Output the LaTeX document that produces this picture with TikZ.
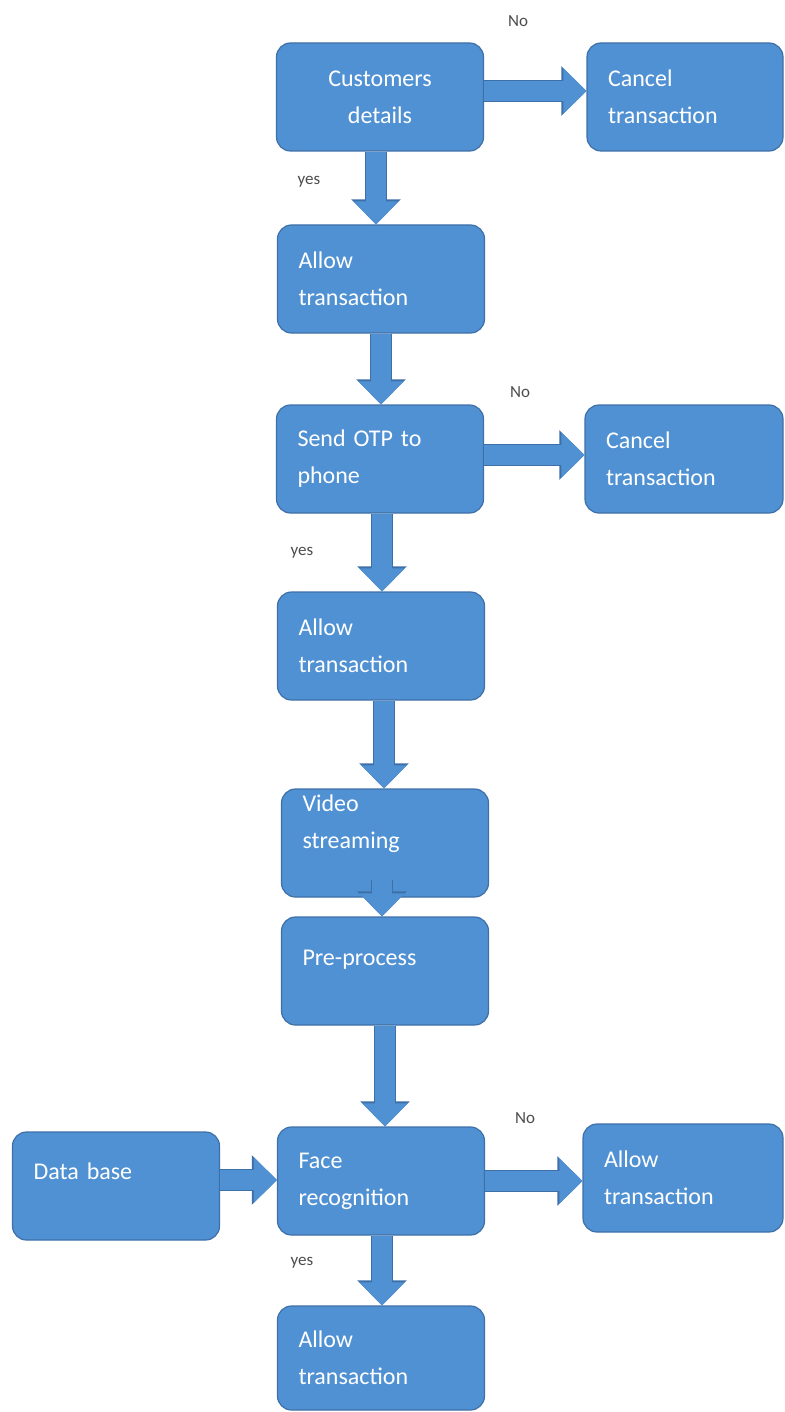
\documentclass[tikz,border=0pt]{standalone}
\usepackage{fontspec}
\setmainfont{Carlito}
\usetikzlibrary{arrows.meta}

\definecolor{boxblue}{RGB}{80,145,211}
\definecolor{boxedge}{RGB}{62,112,168}

\tikzset{
  stage/.style={draw=boxedge,fill=boxblue,line width=1.2pt,rounded corners=14pt,
    text=white,minimum width=207pt,minimum height=108pt,text width=165pt,
    align=left,font=\fontsize{24}{37}\selectfont},
  flow/.style={boxblue,line width=20pt,-{Triangle[width=44pt,length=23pt]},
    preaction={draw=boxedge,line width=22.4pt,-{Triangle[width=48pt,length=25pt]}}},
  answer/.style={font=\fontsize{17}{20}\selectfont,text=black!70}
}

\begin{document}
\begin{tikzpicture}[x=1pt,y=-1pt]
   \useasboundingbox (0,0) rectangle (784,1412);
   % boxes of the main column
   \node[stage,align=center] (details) at (380,97) {Customers\\details};
   \node[stage] (allowA) at (381,279) {Allow\\transaction};
   \node[stage] (otp) at (380,459) {Send OTP to\\phone};
   \node[stage] (allowB) at (381,646) {Allow\\transaction};
   \node[stage,text depth=79pt] (video) at (385,843) {Video\\streaming};
   \node[stage,text depth=26pt] (preproc) at (385,971) {Pre-process};
   \node[stage] (face) at (381,1181) {Face\\recognition};
   \node[stage,minimum height=104pt] (allowD) at (381,1358) {Allow\\transaction};
   % side boxes
   \node[stage,minimum width=196pt,text width=154pt] (cancelA) at (685,97) {Cancel\\transaction};
   \node[stage,minimum width=198pt,text width=156pt] (cancelB) at (684,459) {Cancel\\transaction};
   \node[stage,minimum width=200pt,text width=158pt] (allowC) at (683,1178) {Allow\\transaction};
   \node[stage,text depth=30pt] (database) at (116,1186) {Data base};
   % block arrows
   \draw[flow] ([xshift=-4pt]details.south) -- ([xshift=-4pt]details.south |- allowA.north);
   \draw[flow] (allowA.south) -- (allowA.south |- otp.north);
   \draw[flow] ([xshift=2pt]otp.south) -- ([xshift=2pt]otp.south |- allowB.north);
   \draw[flow] ([xshift=3pt]allowB.south) -- ([xshift=3pt]allowB.south |- video.north);
   \coordinate (videoout) at ([xshift=-3pt,yshift=18pt]video.south);
   \draw[flow] (videoout) -- (videoout |- preproc.north);
   \draw[flow] (preproc.south) -- (preproc.south |- face.north);
   \draw[flow] ([xshift=1pt]face.south) -- ([xshift=1pt]face.south |- allowD.north);
   \draw[flow] ([yshift=6pt]details.east) -- ([yshift=6pt]details.east -| cancelA.west);
   \draw[flow] ([yshift=4pt]otp.east) -- ([yshift=4pt]otp.east -| cancelB.west);
   \draw[flow] (face.east) -- (face.east -| allowC.west);
   \draw[flow] ([yshift=6pt]database.east) -- ([yshift=6pt]database.east -| face.west);
   % answers
   \node[answer] (noA) at (518,21) {No};
   \node[answer] (yesA) at (309,182) {yes};
   \node[answer] (noB) at (520,392) {No};
   \node[answer] (yesB) at (302,553) {yes};
   \node[answer] (noC) at (525,1118) {No};
   \node[answer] (yesC) at (302,1263) {yes};
\end{tikzpicture}
\end{document}
